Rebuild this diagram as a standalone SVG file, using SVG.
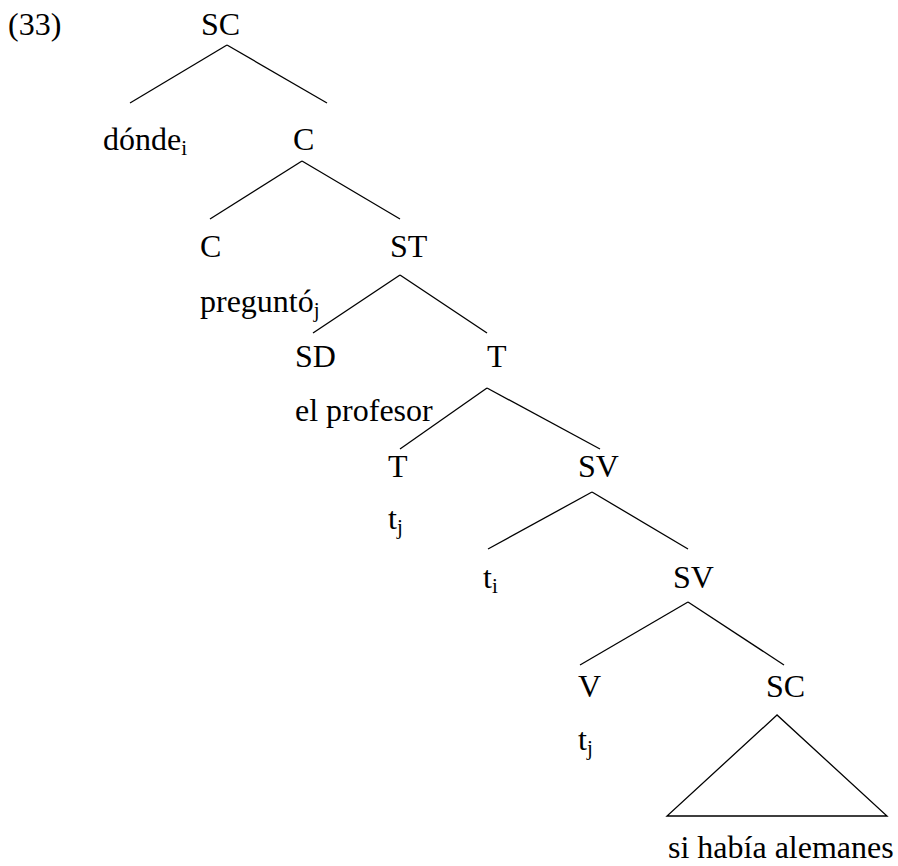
<svg xmlns="http://www.w3.org/2000/svg" width="898" height="866" viewBox="0 0 898 866">
<style>
.sub{font-size:21px}
line,polygon{stroke:#000;stroke-width:1.3;fill:none}
</style>
<rect width="898" height="866" fill="#fff"/>
<g font-family="'Liberation Serif', 'Times New Roman', serif" font-size="32" fill="#000">
<text x="8" y="35">(33)</text>
<g id="n-sc"><text x="201" y="35">SC</text></g>
<g id="n-donde"><text x="103" y="150">dónde<tspan class="sub" dy="5">i</tspan></text></g>
<g id="n-cbar"><text x="293" y="150">C</text></g>
<g id="n-c"><text x="200" y="257">C</text><text x="200" y="312">preguntó<tspan class="sub" dy="5">j</tspan></text></g>
<g id="n-st"><text x="390" y="257">ST</text></g>
<g id="n-sd"><text x="295" y="367">SD</text><text x="295" y="421">el profesor</text></g>
<g id="n-tbar"><text x="487" y="367">T</text></g>
<g id="n-t"><text x="388" y="477">T</text><text x="388" y="529">t<tspan class="sub" dy="5">j</tspan></text></g>
<g id="n-sv1"><text x="578" y="477">SV</text></g>
<g id="n-ti"><text x="483" y="588">t<tspan class="sub" dy="5">i</tspan></text></g>
<g id="n-sv2"><text x="673" y="588">SV</text></g>
<g id="n-v"><text x="578" y="697">V</text><text x="578" y="750">t<tspan class="sub" dy="5">j</tspan></text></g>
<g id="n-sc2"><text x="766" y="697">SC</text><text x="668" y="858">si había alemanes</text></g>
</g>
<g id="connectors">
<line x1="227" y1="45" x2="130" y2="103"/>
<line x1="227" y1="45" x2="327" y2="103"/>
<line x1="302" y1="161" x2="210" y2="219"/>
<line x1="302" y1="161" x2="400" y2="219"/>
<line x1="400" y1="275" x2="313" y2="333"/>
<line x1="400" y1="275" x2="487" y2="333"/>
<line x1="487" y1="388" x2="400" y2="449"/>
<line x1="487" y1="388" x2="600" y2="449"/>
<line x1="592" y1="492" x2="488" y2="549"/>
<line x1="592" y1="492" x2="688" y2="549"/>
<line x1="688" y1="602" x2="580" y2="665"/>
<line x1="688" y1="602" x2="784" y2="665"/>
<polygon points="777,715 667,816 887,816"/>
</g>
</svg>
